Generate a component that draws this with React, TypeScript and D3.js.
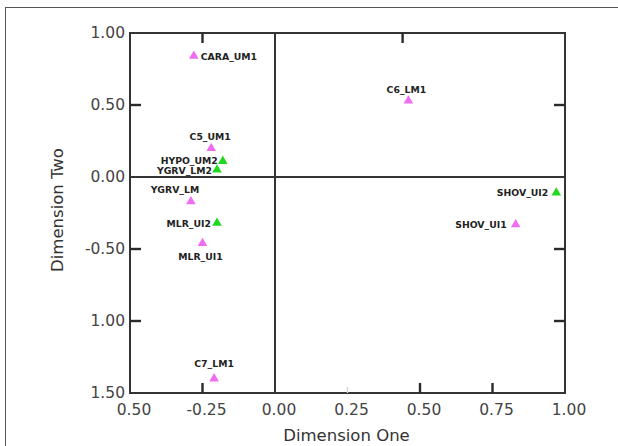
import React from 'react';
import * as d3 from 'd3';

// samples, coordinates on the two dimensions
const names = ['CARA_UM1', 'C6_LM1', 'C5_UM1', 'HYPO_UM2', 'YGRV_LM2', 'YGRV_LM', 'MLR_UI2', 'MLR_UI1', 'C7_LM1', 'SHOV_UI2', 'SHOV_UI1'];
const dimOne = [-0.28, 0.46, -0.22, -0.18, -0.2, -0.29, -0.2, -0.25, -0.21, 0.97, 0.83];
const dimTwo = [0.84, 0.53, 0.2, 0.11, 0.05, -0.17, -0.32, -0.46, -1.4, -0.11, -0.33];
const groups = ['UM', 'UM', 'UM', 'LM', 'LM', 'UM', 'LM', 'UM', 'UM', 'LM', 'UM'];

const xTicks = [-0.5, -0.25, 0, 0.25, 0.5, 0.75, 1];
const xTickLabels = ['0.50', '-0.25', '0.00', '0.25', '0.50', '0.75', '1.00'];
const yTicks = [1, 0.5, 0, -0.5, -1, -1.5];
const yTickLabels = ['1.00', '0.50', '0.00', '-0.50', '1.00', '1.50'];

// where tick marks show on each side
const bottomMarks = [-0.25, 0.5, 0.75];
const faintMarks = [0.25];
const topMarks = [-0.25, 0.44];
const sideMarks = [0.5, -0.5, -1];

// label placement next to each marker
const labelPos = [
  { a: 'start', dx: 7, dy: 3.5 },
  { a: 'middle', dx: -2, dy: -8 },
  { a: 'middle', dx: -1, dy: -8 },
  { a: 'end', dx: -5, dy: 2.5 },
  { a: 'end', dx: -5, dy: 4.5 },
  { a: 'middle', dx: -16, dy: -8 },
  { a: 'end', dx: -6, dy: 3.5 },
  { a: 'middle', dx: -2, dy: 17 },
  { a: 'middle', dx: 0, dy: -12 },
  { a: 'end', dx: -8, dy: 3.5 },
  { a: 'end', dx: -9, dy: 3.5 },
];

const W = 618;
const H = 446;

const App = () => {
  const left = 130, right = 565, top = 33, bottom = 393;
  const x = d3.scaleLinear().domain([-0.5, 1]).range([left, right]);
  const y = d3.scaleLinear().domain([-1.5, 1]).range([bottom, top]);
  const color = d3.scaleOrdinal<string>().domain(['UM', 'LM']).range(['#f06cf0', '#1fd81f']);
  const font = "'DejaVu Sans', Verdana, sans-serif";
  const ink = '#333';
  const tri = d3.symbol().type(d3.symbolTriangle).size(40)();

  return (
    <svg
      width={W}
      height={H}
      style={{ position: 'absolute', left: 0, top: 0, background: '#fff' }}
    >
      <rect x={5.5} y={7.5} width={640} height={460} fill="none" stroke="#555" strokeWidth={1} />

      {/* tick labels */}
      {xTicks.map((v, i) => (
        <text key={'xl' + i} x={x(v) + 4} y={bottom + 22} textAnchor="middle"
          fontFamily={font} fontSize={15.5} fill="#444">{xTickLabels[i]}</text>
      ))}
      {yTicks.map((v, i) => (
        <text key={'yl' + i} x={left - 5} y={y(v)} dy="0.34em" textAnchor="end"
          fontFamily={font} fontSize={15.5} fill="#444">{yTickLabels[i]}</text>
      ))}

      {/* frame and zero lines */}
      <rect x={left} y={top} width={right - left} height={bottom - top} fill="none" stroke={ink} strokeWidth={2} />
      <line x1={x(0)} x2={x(0)} y1={top} y2={bottom} stroke={ink} strokeWidth={2} />
      <line x1={left} x2={right} y1={y(0)} y2={y(0)} stroke={ink} strokeWidth={2} />

      {/* inward tick marks */}
      <g stroke="#2a2a2a" strokeWidth={2.4}>
        {bottomMarks.map((v, i) => <line key={'bm' + i} x1={x(v)} x2={x(v)} y1={bottom} y2={bottom - 10} />)}
        {topMarks.map((v, i) => <line key={'tm' + i} x1={x(v)} x2={x(v)} y1={top} y2={top + 10} />)}
        {sideMarks.map((v, i) => <line key={'lm' + i} x1={left} x2={left + 11} y1={y(v)} y2={y(v)} />)}
        {sideMarks.map((v, i) => <line key={'rm' + i} x1={right} x2={right - 11} y1={y(v)} y2={y(v)} />)}
      </g>
      <g stroke="#d4d4d4" strokeWidth={1.5}>
        {faintMarks.map((v, i) => <line key={'fm' + i} x1={x(v)} x2={x(v)} y1={bottom} y2={bottom - 6} />)}
      </g>

      {/* points */}
      {names.map((name, i) => {
        const px = x(dimOne[i]);
        const py = y(dimTwo[i]);
        return (
          <g key={name}>
            <path d={tri} transform={`translate(${px},${py})`} fill={color(groups[i])} />
            <text x={px + labelPos[i].dx} y={py + labelPos[i].dy} textAnchor={labelPos[i].a}
              fontFamily={font} fontWeight="bold" fontSize={9.3} fill="#222">{name}</text>
          </g>
        );
      })}

      <text x={(left + right) / 2 - 1} y={441} textAnchor="middle"
        fontFamily={font} fontSize={16.5} fill="#333">Dimension One</text>
      <text transform={`translate(63,${(top + bottom) / 2 - 3}) rotate(-90)`} textAnchor="middle"
        fontFamily={font} fontSize={16.5} fill="#333">Dimension Two</text>
    </svg>
  );
};

export default App;
